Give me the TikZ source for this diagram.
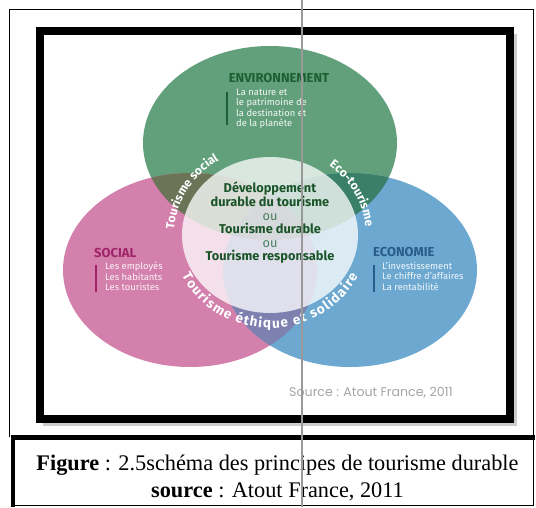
\documentclass[tikz,border=0pt]{standalone}
\usepackage{fontspec}
\setmainfont{Liberation Serif}
\setsansfont{Fira Sans}
\newfontfamily\srcfont{Poppins}
\usetikzlibrary{decorations.text}
\definecolor{cgreen}{RGB}{98,160,124}
\definecolor{cpink}{RGB}{212,128,172}
\definecolor{cblue}{RGB}{108,168,208}
\definecolor{cgp}{RGB}{108,116,88}
\definecolor{cgb}{RGB}{58,128,104}
\definecolor{cpb}{RGB}{126,128,176}
\definecolor{cgpb}{RGB}{90,104,112}
\definecolor{tgreen}{RGB}{28,96,52}
\definecolor{tpink}{RGB}{160,36,106}
\definecolor{tblue}{RGB}{40,92,138}
\definecolor{ctxt}{RGB}{26,84,40}
\definecolor{srcgray}{RGB}{165,165,165}
\begin{document}
\begin{tikzpicture}[x=1pt,y=1pt,
  lbl/.style={font=\sffamily\bfseries\fontsize{13}{14}\selectfont, inner sep=0, anchor=west},
  sub/.style={font=\sffamily\fontsize{9.4}{10.3}\selectfont, align=left, inner sep=0, anchor=north west},
  bar/.style={line width=1.6pt},
  curved/.style={decorate, decoration={text along path, text color=white, text align=center}},
  captxt/.style={font=\fontsize{22.3}{27}\selectfont, inner sep=0, anchor=base},
]
\useasboundingbox (0,0) rectangle (536,507);
\fill[white] (0,0) rectangle (536,507);

% centres
\coordinate (gc) at (270,364);
\coordinate (pc) at (190,237);
\coordinate (bc) at (350,237);
\coordinate (wc) at (270,272);

% circles
\fill[cgreen] (gc) ellipse [x radius=127, y radius=97];
\fill[cpink] (pc) ellipse [x radius=127, y radius=97];
\fill[cblue] (bc) ellipse [x radius=127, y radius=97];
\begin{scope}
  \clip (gc) ellipse [x radius=127, y radius=97];
  \fill[cgp] (pc) ellipse [x radius=127, y radius=97];
  \fill[cgb] (bc) ellipse [x radius=127, y radius=97];
\end{scope}
\begin{scope}
  \clip (pc) ellipse [x radius=127, y radius=97];
  \fill[cpb] (bc) ellipse [x radius=127, y radius=97];
  \clip (gc) ellipse [x radius=127, y radius=97];
  \fill[cgpb] (bc) ellipse [x radius=127, y radius=97];
\end{scope}
\fill[white, fill opacity=0.76] (wc) ellipse [x radius=88, y radius=78];

% curved labels
\path[curved, decoration={text={|\sffamily\bfseries\fontsize{12}{13}\selectfont|Tourisme social}}]
  ([shift={(195:96 and 88)}]wc) arc[start angle=195, end angle=105, x radius=96, y radius=88];
\path[curved, decoration={text={|\sffamily\bfseries\fontsize{12}{13}\selectfont|Eco-tourisme}}]
  ([shift={(72:96 and 88)}]wc) arc[start angle=72, end angle=-16, x radius=96, y radius=88];
\path[curved, decoration={text={|\sffamily\bfseries\fontsize{13.5}{15}\selectfont|Tourisme éthique et solidaire}, text align=fit to path}]
  ([shift={(206:98 and 93)}]wc) arc[start angle=206, end angle=334, x radius=98, y radius=93];

% environnement
\node[lbl, text=tgreen, anchor=center] (env) at (279,429) {ENVIRONNEMENT};
\draw[bar, tgreen] (227,415) -- (227,382);
\node[sub, text=white!92!cgreen] (envt) at (236,418) {La nature et\\le patrimoine de\\la destination et\\de la planète};

% social
\node[lbl, text=tpink] (soc) at (94,254) {SOCIAL};
\draw[bar, tpink] (96,242) -- (96,215);
\node[sub, text=white!90!cpink] (soct) at (105,245) {Les employés\\Les habitants\\Les touristes};

% economie
\node[lbl, text=tblue] (eco) at (373,255) {ECONOMIE};
\draw[bar, tblue] (374,242) -- (374,215);
\node[sub, text=white!90!cblue] (ecot) at (382,245) {L'investissement\\Le chiffre d'affaires\\La rentabilité};

% centre
\node[font=\sffamily\bfseries\fontsize{12.8}{13.6}\selectfont, text=ctxt, align=center, inner sep=0] (ctr) at (270,284)
  {Développement\\durable du tourisme\\{\mdseries\color{tgreen!80!white}ou}\\Tourisme durable\\{\mdseries\color{tgreen!80!white}ou}\\Tourisme responsable};

% source
\node[font=\srcfont\fontsize{12.6}{14}\selectfont, text=srcgray, inner sep=0] (src) at (371,114) {Source : Atout France, 2011};

% frames
\draw[line width=8pt, black!20] (43,85) -- (513,85) -- (513,473);
\draw[line width=8pt] (40,88) rectangle (510,476);
\draw[line width=1pt] (9,70) -- (9,497.5) -- (533,497.5) -- (533,2);
\draw[line width=5pt] (11,70) -- (535,70);
\draw[line width=3.5pt] (13,72) -- (13,0);
\draw[line width=1pt] (12,2) -- (533.5,2);

% caption
\node[captxt] (cap1) at (277.5,37) {\textbf{Figure} : 2.5schéma des principes de tourisme durable};
\node[captxt] (cap2) at (277.5,10) {\textbf{source} : Atout France, 2011};

% scan line
\draw[line width=1.2pt, black!40] (302,0) -- (302,507);
\end{tikzpicture}
\end{document}
